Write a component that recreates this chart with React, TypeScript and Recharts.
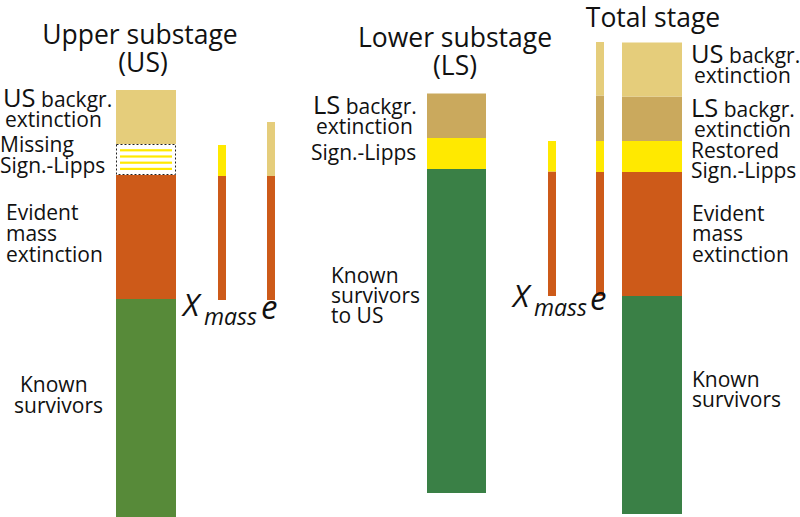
import { BarChart, Bar, XAxis, YAxis, Cell } from "recharts";

// one entry per bar, left to right
const columns = ["US", "Xmass US", "e US", "LS", "Xmass LS", "e LS", "Total"];
const hiddenBase = [0, 43.4, 43.4, 4.8, 44.2, 44.2, 0.6];
const knownSurvivors = [43.6, 0, 0, 64.8, 0, 0, 43.6];
const evidentMass = [24.8, 24.8, 24.8, 0, 24.9, 24.8, 24.8];
const missingSignorLipps = [6.2, 0, 0, 0, 0, 0, 0];
const signorLipps = [0, 6.2, 0, 6.2, 6.1, 6.2, 6.2];
const lsBackground = [0, 0, 0, 8.9, 0, 9.1, 8.9];
const usBackground = [10.8, 0, 10.8, 0, 0, 10.7, 10.8];

// layout of the columns on the page
const columnLeft = [116, 218, 267, 427, 548, 596, 622];
const columnWidth = [60, 8, 8, 59, 8, 8, 60];
const greenFill = ["#578a39", "#578a39", "#578a39", "#3a8046", "#3a8046", "#3a8046", "#3a8046"];

const FONT = "'Open Sans', sans-serif";

const MissingShape = (props: any) => {
  const { x, y, width, height } = props;
  if (!height) return null;
  const stripes = [0.2, 0.4, 0.6, 0.8];
  return (
    <g>
      <rect x={x + 0.5} y={y + 0.5} width={width - 1} height={height - 1} fill="#fff" stroke="#222" strokeWidth={1} strokeDasharray="2 2" />
      {stripes.map((f) => (
        <rect key={f} x={x + 4} y={y + height * f - 1} width={width - 8} height={2.2} fill="#ffe900" />
      ))}
    </g>
  );
};

function Column({ i }: { i: number }) {
  const row = {
    name: columns[i],
    base: hiddenBase[i],
    known: knownSurvivors[i],
    evident: evidentMass[i],
    missing: missingSignorLipps[i],
    sl: signorLipps[i],
    ls: lsBackground[i],
    us: usBackground[i],
  };
  return (
    <div style={{ position: "absolute", left: columnLeft[i], top: 0 }}>
      <BarChart
        width={columnWidth[i]}
        height={517}
        data={[row]}
        margin={{ top: 17, right: 0, bottom: 0, left: 0 }}
        barCategoryGap={0}
        barGap={0}
      >
        <XAxis dataKey="name" hide />
        <YAxis hide domain={[0, 100]} />
        <Bar dataKey="base" stackId="s" fill="transparent" isAnimationActive={false} />
        <Bar dataKey="known" stackId="s" isAnimationActive={false}>
          <Cell fill={greenFill[i]} />
        </Bar>
        <Bar dataKey="evident" stackId="s" fill="#cd5a19" isAnimationActive={false} />
        <Bar dataKey="missing" stackId="s" shape={MissingShape} isAnimationActive={false} />
        <Bar dataKey="sl" stackId="s" fill="#ffe900" isAnimationActive={false} />
        <Bar dataKey="ls" stackId="s" fill="#caa95d" isAnimationActive={false} />
        <Bar dataKey="us" stackId="s" fill="#e5cd7b" isAnimationActive={false} />
      </BarChart>
    </div>
  );
}

const T = (p: any) => <text fontFamily={FONT} fill="#111" fontSize={21} {...p} />;

const BgLabel = ({ x, y, stage }: { x: number; y: number; stage: string }) => (
  <text x={x} y={y} fontFamily={FONT} fill="#111">
    <tspan fontSize={25.5}>{stage}</tspan>
    <tspan fontSize={21}> backgr.</tspan>
  </text>
);

const XLabel = ({ x, y, ex }: { x: number; y: number; ex: number }) => (
  <g fontFamily={FONT} fontStyle="italic" fill="#111">
    <text x={x} y={y} fontSize={31}>X</text>
    <text x={x + 21} y={y + 9} fontSize={23}>mass</text>
    <text x={ex} y={y + 3} fontSize={33}>e</text>
  </g>
);

export default function App() {
  return (
    <div style={{ position: "absolute", left: 0, top: 0, width: 800, height: 517, background: "#fff" }}>
      {columns.map((c, i) => (
        <Column key={c} i={i} />
      ))}
      <svg width={800} height={517} style={{ position: "absolute", left: 0, top: 0, pointerEvents: "none" }}>
        {/* headings */}
        <T x={140} y={44} fontSize={26.5} textAnchor="middle">Upper substage</T>
        <T x={143} y={72} fontSize={26.5} textAnchor="middle">(US)</T>
        <T x={455} y={47} fontSize={26.5} textAnchor="middle">Lower substage</T>
        <T x={455} y={75} fontSize={26.5} textAnchor="middle">(LS)</T>
        <T x={653} y={27} fontSize={26.5} textAnchor="middle">Total stage</T>

        {/* upper substage */}
        <BgLabel x={3} y={107} stage="US" />
        <T x={5} y={127}>extinction</T>
        <T x={0} y={152}>Missing</T>
        <T x={0} y={173}>Sign.-Lipps</T>
        <T x={6} y={220}>Evident</T>
        <T x={6} y={241}>mass</T>
        <T x={6} y={262}>extinction</T>
        <T x={20} y={392}>Known</T>
        <T x={14} y={413}>survivors</T>
        <XLabel x={183} y={316} ex={261} />

        {/* lower substage */}
        <BgLabel x={313} y={114} stage="LS" />
        <T x={316} y={134}>extinction</T>
        <T x={311} y={160}>Sign.-Lipps</T>
        <T x={331} y={283}>Known</T>
        <T x={331} y={303}>survivors</T>
        <T x={331} y={323}>to US</T>
        <XLabel x={513} y={307} ex={590} />

        {/* total stage */}
        <BgLabel x={691} y={63} stage="US" />
        <T x={694} y={83}>extinction</T>
        <BgLabel x={691} y={117} stage="LS" />
        <T x={694} y={137}>extinction</T>
        <T x={691} y={158}>Restored</T>
        <T x={691} y={178}>Sign.-Lipps</T>
        <T x={692} y={221}>Evident</T>
        <T x={692} y={241}>mass</T>
        <T x={692} y={262}>extinction</T>
        <T x={692} y={387}>Known</T>
        <T x={692} y={407}>survivors</T>
      </svg>
    </div>
  );
}
